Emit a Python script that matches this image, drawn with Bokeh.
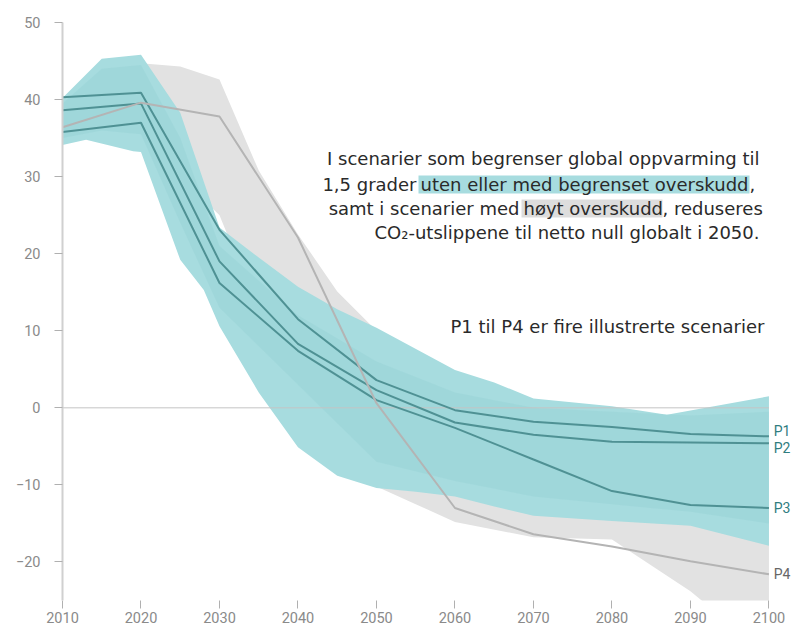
from bokeh.plotting import figure
from bokeh.models import Range1d, Label, BoxAnnotation, FixedTicker
from bokeh.embed import file_html
from bokeh.resources import INLINE

# ---------------- data ----------------
x_ticks = [2010, 2020, 2030, 2040, 2050, 2060, 2070, 2080, 2090, 2100]
y_ticks = [50, 40, 30, 20, 10, 0, -10, -20]

teal_up_years = [2010, 2015, 2020, 2025, 2030, 2035, 2040, 2045, 2050, 2060, 2065, 2070, 2080, 2087, 2100]
teal_up = [40.2, 45.3, 45.8, 38.3, 23.4, 19.5, 15.7, 12.8, 10.4, 4.9, 3.3, 1.2, 0.2, -0.9, 1.5]
teal_lo_years = [2010, 2013, 2019, 2020, 2025, 2028, 2030, 2035, 2040, 2045, 2050, 2055, 2060, 2065, 2070, 2080, 2090, 2100]
teal_lo = [34.1, 34.8, 33.3, 33.2, 19.2, 15.3, 10.6, 2.0, -5.1, -8.8, -10.4, -10.9, -11.5, -12.8, -14.0, -14.7, -15.3, -17.9]

core_years = [2010, 2015, 2020, 2025, 2030, 2040, 2050, 2060, 2070, 2080, 2090, 2100]
core_up = [39.5, 44.0, 44.5, 35.0, 21.0, 12.0, 6.0, 2.0, 0.0, -0.5, -1.0, -0.5]
core_lo = [35.0, 36.0, 35.5, 24.0, 13.0, 3.0, -7.0, -9.5, -11.5, -12.5, -13.5, -15.0]

gray_up_years = [2010, 2015, 2020, 2025, 2030, 2035, 2040, 2045, 2050, 2060, 2070, 2080, 2090, 2100]
gray_up = [37.0, 43.0, 44.7, 44.3, 42.6, 30.8, 22.5, 15.1, 10.0, 3.0, 0.0, -1.0, -1.0, -2.0]
gray_lo_years = [2010, 2020, 2030, 2040, 2050, 2055, 2060, 2070, 2080, 2090, 2095, 2100]
gray_lo = [35.0, 35.0, 25.0, 0.0, -10.2, -12.5, -14.8, -16.8, -17.1, -23.8, -28.0, -28.0]

path_years = [2010, 2020, 2030, 2040, 2050, 2060, 2070, 2080, 2090, 2100]
p1 = [40.3, 40.9, 23.1, 11.5, 3.6, -0.3, -1.8, -2.5, -3.4, -3.7]
p2 = [38.6, 39.5, 19.0, 8.3, 2.3, -1.9, -3.5, -4.4, -4.5, -4.6]
p3 = [35.8, 37.0, 16.2, 7.4, 1.0, -2.6, -6.7, -10.8, -12.6, -13.0]
p4 = [36.4, 39.6, 37.8, 22.1, 0.6, -13.0, -16.4, -18.0, -19.9, -21.6]

path_names = ["P1", "P2", "P3", "P4"]
path_label_y = [-3.0, -5.2, -13.0, -21.6]

# ---------------- styling ----------------
TEAL = "#a7dcdf"
TEAL_CORE = "#8fcdd1"
GRAY = "#e2e2e2"
DARK = "#468a8c"
P4C = "#b4b4b4"
FONT = "Roboto"
TFONT = "DejaVu Sans"
TXT = "#2a2a2a"
AX = "#8a8a8a"

W, H = 792, 626
BL, BR, BT, BB = 62, 0, 22, 26
X_END = 2103.0

p = figure(width=W, height=H, output_backend="svg", toolbar_location=None,
           x_range=Range1d(2010, X_END), y_range=Range1d(-25, 50),
           min_border_left=BL, min_border_right=BR, min_border_top=BT, min_border_bottom=BB)
p.outline_line_color = None
p.grid.grid_line_color = None
p.background_fill_color = "white"

# bands
p.patch(gray_up_years + gray_lo_years[::-1], gray_up + gray_lo[::-1],
        fill_color=GRAY, line_color=None)
p.patch(teal_up_years + teal_lo_years[::-1], teal_up + teal_lo[::-1],
        fill_color=TEAL, line_color=None)
p.patch(core_years + core_years[::-1], core_up + core_lo[::-1],
        fill_color=TEAL_CORE, fill_alpha=0.3, line_color=None)

# zero line
p.segment(x0=[x_ticks[0]], y0=[0], x1=[x_ticks[-1]], y1=[0], line_color="#c4c4c4", line_width=1)

# illustrative pathways
for ys in (p1, p2, p3):
    p.line(path_years, ys, line_color=DARK, line_width=2, line_alpha=0.9)
p.line(path_years, p4, line_color=P4C, line_width=2)

for name, ly in zip(path_names, path_label_y):
    p.add_layout(Label(x=path_years[-1] + 0.6, y=ly, text=name, text_font=FONT, text_font_size="14px",
                       text_color="#666666" if name == "P4" else "#2f7d80",
                       text_baseline="middle", text_align="left"))

# axes
p.xaxis.ticker = FixedTicker(ticks=x_ticks)
p.yaxis.ticker = FixedTicker(ticks=y_ticks)
p.xaxis.minor_tick_line_color = None
p.yaxis.minor_tick_line_color = None
p.xaxis.axis_line_color = None
p.yaxis.axis_line_color = "#d0d0d0"
p.yaxis.axis_line_width = 2
for ax in (p.xaxis, p.yaxis):
    ax.major_tick_in = 0
    ax.major_tick_out = 8
    ax.major_tick_line_color = "#b0b0b0"
    ax.major_label_text_font = FONT
    ax.major_label_text_font_size = "14.5px"
    ax.major_label_text_color = AX
p.xaxis.major_label_standoff = 3
p.yaxis.major_label_standoff = 14

FRAME_W = W - BL - BR
FRAME_H = H - BT - BB


def X(px):
    # page pixel -> data x for annotation placement
    return 2010 + (px - BL) * (X_END - 2010) / FRAME_W


def Y(py):
    return 50 - (py - BT) * 75.0 / FRAME_H


def txt(x, y, s, align):
    p.add_layout(Label(x=x, y=y, text=s, text_font=TFONT, text_font_size="18px",
                       text_color=TXT, text_align=align, text_baseline="middle"))


R = X(759)
# highlight boxes
p.add_layout(BoxAnnotation(left=X(418), right=X(749), top=Y(175), bottom=Y(193),
                           fill_color=TEAL, fill_alpha=1, line_color=None))
p.add_layout(BoxAnnotation(left=X(521), right=X(662), top=Y(199), bottom=Y(217),
                           fill_color="#dddddd", fill_alpha=1, line_color=None))

txt(R, Y(158), "I scenarier som begrenser global oppvarming til", "right")
txt(X(416), Y(184), "1,5 grader", "right")
txt(X(420), Y(184), "uten eller med begrenset overskudd", "left")
txt(X(749), Y(184), ",", "left")
txt(X(519), Y(208), "samt i scenarier med", "right")
txt(X(523), Y(208), "høyt overskudd", "left")
txt(X(662), Y(208), ", reduseres", "left")
txt(R, Y(232), "CO₂-utslippene til netto null globalt i 2050.", "right")
txt(X(764), Y(326), "P1 til P4 er fire illustrerte scenarier", "right")

open("out.html", "w").write(file_html(p, INLINE))
